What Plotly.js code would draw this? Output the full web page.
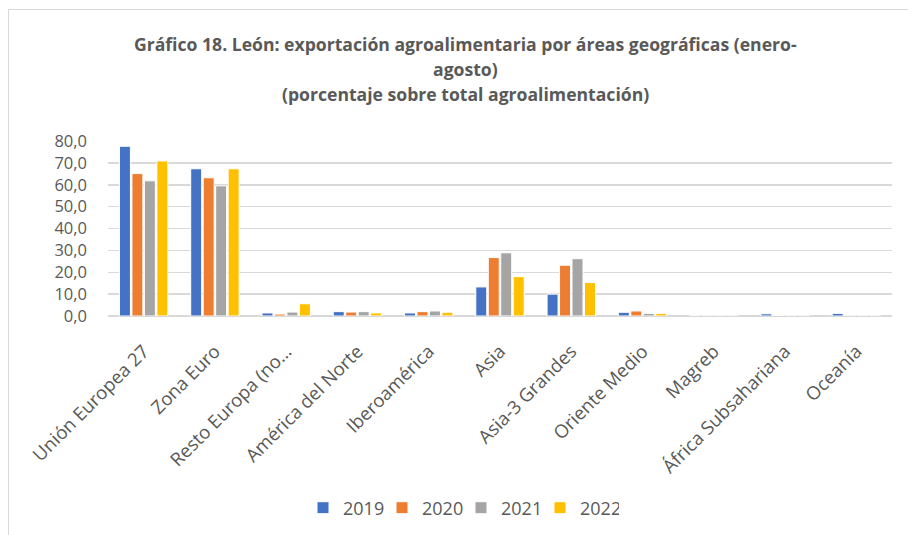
<!DOCTYPE html>
<html>
<head>
<meta charset="utf-8">
<script src="https://cdn.plot.ly/plotly-3.0.1.min.js"></script>
<style>html,body{margin:0;padding:0;background:#fff;}#chart{width:908px;height:535px;}</style>
</head>
<body>
<div id="chart"></div>
<script>
const categories = ["Unión Europea 27", "Zona Euro", "Resto Europa (no…", "América del Norte", "Iberoamérica", "Asia", "Asia-3 Grandes", "Oriente Medio", "Magreb", "África Subsahariana", "Oceanía"];
const seriesNames = ["2019", "2020", "2021", "2022"];
const v2019 = [77.6, 67.3, 1.4, 2.0, 1.4, 13.3, 10.0, 1.7, 0.1, 1.0, 1.2];
const v2020 = [65.1, 63.2, 0.9, 1.8, 2.0, 26.7, 23.2, 2.3, 0.1, 0.2, 0.3];
const v2021 = [61.8, 59.5, 1.8, 2.0, 2.3, 28.9, 26.2, 1.2, 0.1, 0.1, 0.1];
const v2022 = [70.9, 67.3, 5.6, 1.4, 1.7, 18.0, 15.3, 1.2, 0.1, 0.1, 0.1];
const yTicks = [0, 10, 20, 30, 40, 50, 60, 70, 80];
const titleLines = ["Gráfico 18. León: exportación agroalimentaria por áreas geográficas (enero-", "agosto)", "(porcentaje sobre total agroalimentación)"];

const colors = ["#4472C4", "#ED7D31", "#A5A5A5", "#FFC000"];
const allValues = [v2019, v2020, v2021, v2022];
const traces = allValues.map((vals, i) => ({
  type: "bar",
  name: seriesNames[i],
  x: categories,
  y: vals,
  marker: {color: colors[i], line: {color: "#ffffff", width: 1}},
  hoverinfo: "x+y+name"
}));

const W = 908, H = 535;
const L = 108, R = 16, T = 141, B = 219;
const pw = W - L - R, ph = H - T - B;
const px = x => (x - L) / pw;
const py = y => (H - B - y) / ph;

const titleY = [44, 69, 94];
const annotations = titleLines.map((t, i) => ({
  text: "<b>" + t + "</b>",
  xref: "paper", yref: "paper",
  x: px(465), y: py(titleY[i]),
  xanchor: "center", yanchor: "middle",
  showarrow: false,
  font: {family: "Open Sans, sans-serif", size: 17.6, color: "#595959"}
}));

const layout = {
  width: W, height: H,
  margin: {l: L, r: R, t: T, b: B, pad: 0, autoexpand: false},
  paper_bgcolor: "#ffffff",
  plot_bgcolor: "#ffffff",
  separators: ",.",
  showlegend: true,
  barmode: "group",
  bargap: 0.3,
  bargroupgap: 0.12,
  font: {family: "Open Sans, sans-serif", color: "#595959"},
  xaxis: {
    type: "category",
    tickangle: -45,
    automargin: false,
    tickfont: {family: "Open Sans, sans-serif", size: 18.5, color: "#595959"},
    showgrid: false,
    showline: false,
    ticks: "",
    ticklabelstandoff: 20,
    fixedrange: true
  },
  yaxis: {
    range: [0, 80],
    automargin: false,
    tickvals: yTicks,
    tickformat: ".1f",
    tickfont: {family: "Open Sans, sans-serif", size: 16.5, color: "#595959"},
    showgrid: true,
    gridcolor: "#d9d9d9",
    gridwidth: 1.5,
    zeroline: true,
    zerolinecolor: "#d9d9d9",
    zerolinewidth: 1.5,
    showline: false,
    ticks: "",
    ticklabelstandoff: 20,
    fixedrange: true
  },
  legend: {
    orientation: "h",
    x: px(461), xanchor: "center",
    y: py(508), yanchor: "middle",
    entrywidth: 34,
    entrywidthmode: "pixels",
    font: {family: "Open Sans, sans-serif", size: 18, color: "#595959"},
    traceorder: "normal"
  },
  annotations: annotations,
  shapes: [{
    type: "rect", xref: "paper", yref: "paper",
    x0: px(8.5), x1: px(915), y0: py(9.5), y1: py(545),
    line: {color: "#d9d9d9", width: 1}, fillcolor: "rgba(0,0,0,0)", layer: "below"
  }]
};

Plotly.newPlot("chart", traces, layout, {displayModeBar: false, staticPlot: true});
</script>
</body>
</html>
